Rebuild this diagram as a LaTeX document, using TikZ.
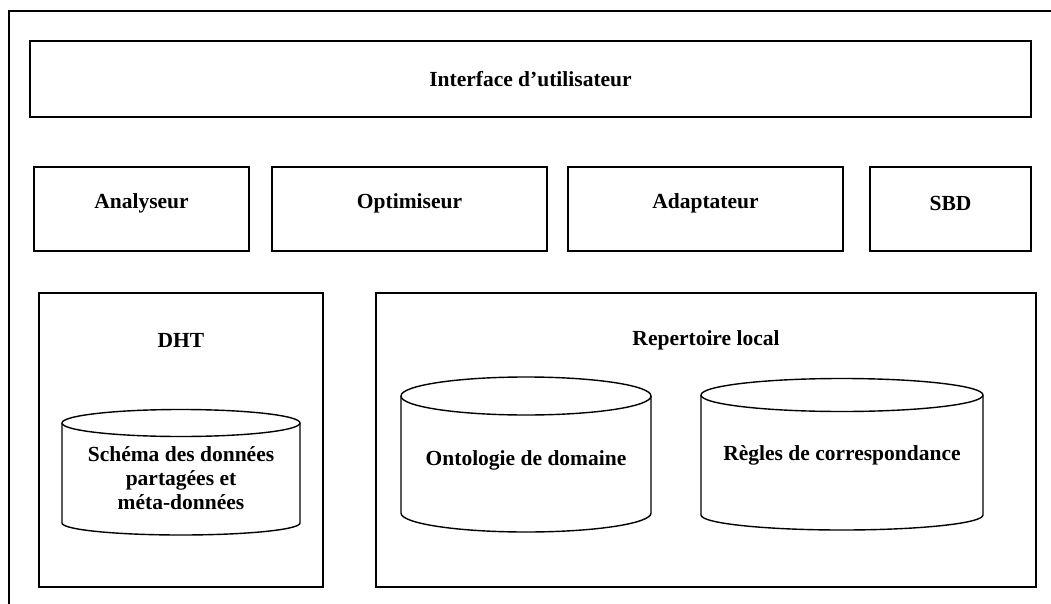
\documentclass[tikz,border=0pt]{standalone}
\usepackage{fontspec}
\setmainfont{Liberation Serif}
\begin{document}
\begin{tikzpicture}[x=1pt,y=-1pt,
  box/.style={draw, line width=1.6pt, inner sep=0pt},
  lbl/.style={font=\fontsize{21.5}{24}\selectfont\bfseries, inner sep=0pt, align=center},
  cyl/.style={draw, line width=1.4pt, line join=round}]
\useasboundingbox (0,0) rectangle (1051,604);
% outer frame (top and left edges)
\draw[line width=1.8pt] (9,604) -- (9,11) -- (1051,11);

% user interface layer
\node[box, minimum width=1001pt, minimum height=76pt] (ui) at (530.5,79) {};
\node[lbl] (uit) at (ui.center) {Interface d'utilisateur};

% processing modules
\node[box, minimum width=215pt, minimum height=84pt] (ana) at (141.5,209) {};
\node[box, minimum width=275pt, minimum height=84pt] (opt) at (409.5,209) {};
\node[box, minimum width=275pt, minimum height=84pt] (ada) at (705.5,209) {};
\node[box, minimum width=161pt, minimum height=84pt] (sbd) at (950.5,209) {};
\node[lbl] (anat) at ([yshift=6pt]ana.center) {Analyseur};
\node[lbl] (optt) at ([yshift=6pt]opt.center) {Optimiseur};
\node[lbl] (adat) at ([yshift=6pt]ada.center) {Adaptateur};
\node[lbl] (sbdt) at ([yshift=6pt]sbd.center) {SBD};

% storage areas
\node[box, line width=1.4pt, minimum width=284pt, minimum height=294pt] (dht) at (181,440) {};
\node[box, line width=1.4pt, minimum width=660pt, minimum height=294pt] (rep) at (706,440) {};
\node[lbl] (dhtt) at (181,340) {DHT};
\node[lbl] (rept) at (706,340) {Repertoire local};

% cylinders: top ellipse, then sides joined by the lower half-ellipse
\draw[cyl] (181,423) ellipse [x radius=119, y radius=13.5];
\draw[cyl] (62,423) -- (62,523) arc[start angle=180, end angle=0, x radius=119, y radius=12] -- (300,423);
\draw[cyl] (526,396) ellipse [x radius=125, y radius=19];
\draw[cyl] (401,396) -- (401,513) arc[start angle=180, end angle=0, x radius=125, y radius=19] -- (651,396);
\draw[cyl] (842,395) ellipse [x radius=141, y radius=16.5];
\draw[cyl] (701,395) -- (701,515) arc[start angle=180, end angle=0, x radius=141, y radius=15] -- (983,395);

\node[lbl] (schema) at (181,478) {Schéma des données\\partagées et\\méta-données};
\node[lbl] (onto) at (526,460) {Ontologie de domaine};
\node[lbl] (regles) at (842,455) {Règles de correspondance};
\end{tikzpicture}
\end{document}
